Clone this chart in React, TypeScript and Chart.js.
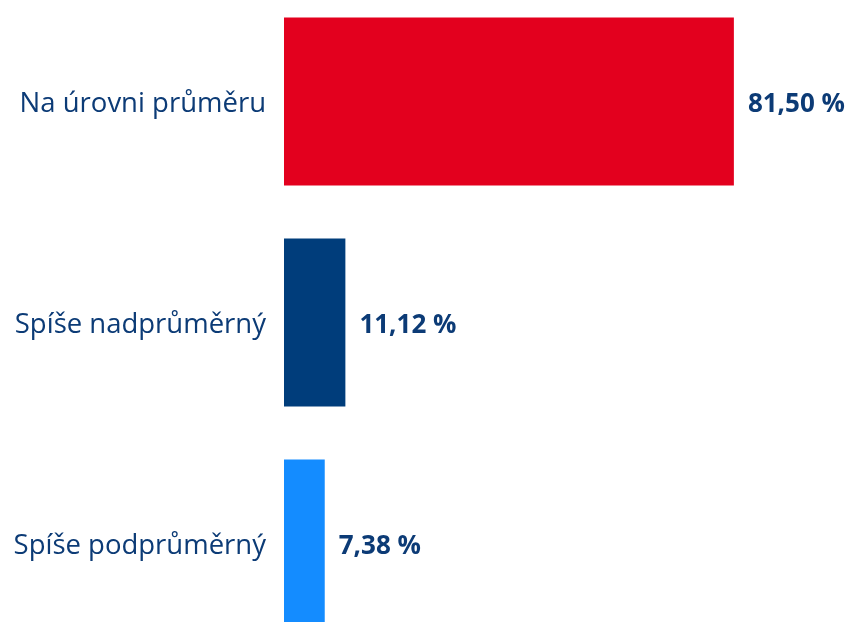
import React, { useEffect, useRef } from "react";
import { Chart, registerables } from "chart.js";

Chart.register(...registerables);

const categories = ["Na úrovni průměru", "Spíše nadprůměrný", "Spíše podprůměrný"];
const values = [81.5, 11.12, 7.38];
const valueLabels = ["81,50 %", "11,12 %", "7,38 %"];
const barColors = ["#E3001E", "#003D7B", "#148CFF"];
const textColor = "#0C3B76";

const valueLabelPlugin = {
  id: "valueLabels",
  afterDatasetsDraw(chart: any) {
    const ctx = chart.ctx;
    const meta = chart.getDatasetMeta(0);
    ctx.save();
    ctx.font = "bold 26px 'Open Sans'";
    ctx.fillStyle = textColor;
    ctx.textAlign = "left";
    ctx.textBaseline = "middle";
    meta.data.forEach((bar: any, i: number) => {
      ctx.fillText(valueLabels[i], bar.x + 14, bar.y + 3.5);
    });
    ctx.restore();
  },
};

export default function App() {
  const ref = useRef<HTMLCanvasElement>(null);
  useEffect(() => {
    if (!ref.current) return;
    const chart = new Chart(ref.current, {
      type: "bar",
      data: {
        labels: categories,
        datasets: [
          {
            data: values,
            backgroundColor: barColors,
            barPercentage: 0.76,
            categoryPercentage: 1,
          },
        ],
      },
      options: {
        indexAxis: "y",
        animation: false,
        responsive: false,
        maintainAspectRatio: false,
        layout: { padding: { top: 0, bottom: 0, left: 0, right: 13 } },
        plugins: { legend: { display: false }, tooltip: { enabled: false } },
        scales: {
          x: { display: false, min: 0, max: 100 },
          y: {
            grid: { display: false, drawTicks: false },
            border: { display: false },
            ticks: {
              color: textColor,
              font: { family: "'Open Sans'", size: 27.5 },
              padding: 18,
              labelOffset: 3,
            },
            afterFit(scale: any) {
              scale.width = 284;
              scale.paddingTop = 0;
              scale.paddingBottom = 0;
            },
          },
        },
      },
      plugins: [valueLabelPlugin],
    });
    return () => chart.destroy();
  }, []);
  return (
    <div style={{ position: "fixed", left: 0, top: -9, width: 849, height: 663 }}>
      <canvas ref={ref} width={849} height={663} style={{ display: "block" }} />
    </div>
  );
}
